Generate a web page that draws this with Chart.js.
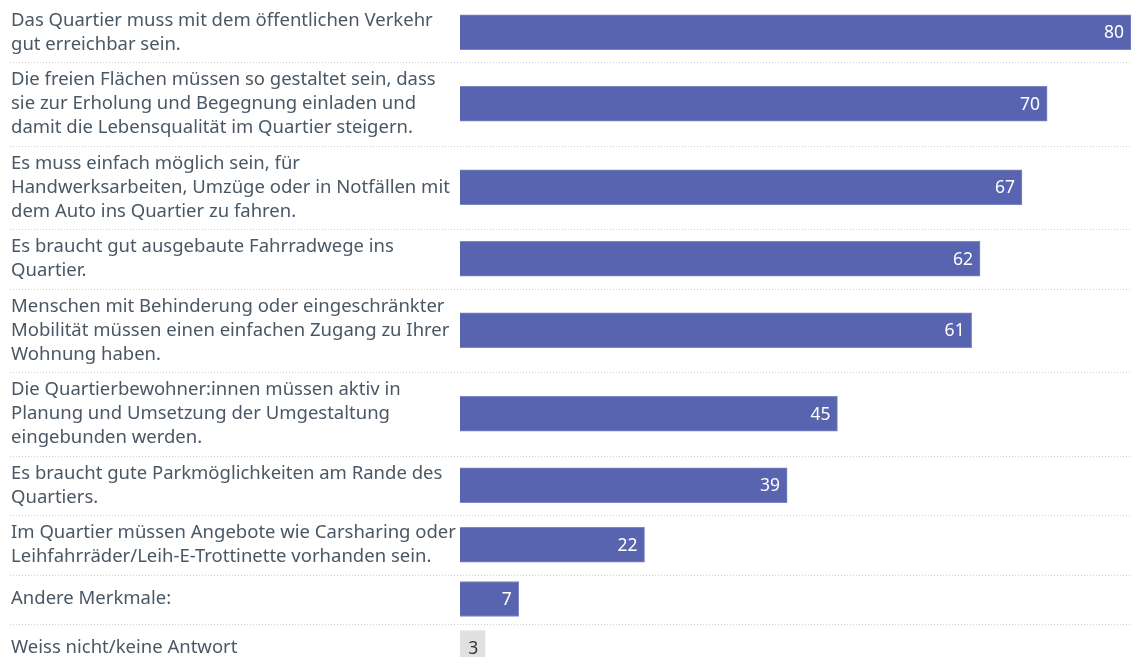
<!DOCTYPE html>
<html>
<head>
<meta charset="utf-8">
<script src="https://cdn.jsdelivr.net/npm/chart.js@4"></script>
<style>
  html, body { margin: 0; padding: 0; background: #fff; overflow: hidden; }
  canvas { display: block; }
</style>
</head>
<body>
<canvas id="chart" width="1131" height="657"></canvas>
<script>
  // Category labels, already broken into lines as in the original
  const categories = [
    ["Das Quartier muss mit dem öffentlichen Verkehr", "gut erreichbar sein."],
    ["Die freien Flächen müssen so gestaltet sein, dass", "sie zur Erholung und Begegnung einladen und", "damit die Lebensqualität im Quartier steigern."],
    ["Es muss einfach möglich sein, für", "Handwerksarbeiten, Umzüge oder in Notfällen mit", "dem Auto ins Quartier zu fahren."],
    ["Es braucht gut ausgebaute Fahrradwege ins", "Quartier."],
    ["Menschen mit Behinderung oder eingeschränkter", "Mobilität müssen einen einfachen Zugang zu Ihrer", "Wohnung haben."],
    ["Die Quartierbewohner:innen müssen aktiv in", "Planung und Umsetzung der Umgestaltung", "eingebunden werden."],
    ["Es braucht gute Parkmöglichkeiten am Rande des", "Quartiers."],
    ["Im Quartier müssen Angebote wie Carsharing oder", "Leihfahrräder/Leih-E-Trottinette vorhanden sein."],
    ["Andere Merkmale:"],
    ["Weiss nicht/keine Antwort"]
  ];
  const values = [80, 70, 67, 62, 61, 45, 39, 22, 7, 3];

  // Layout constants
  const LINE_H = 24;
  const ROW_PAD = 11.5;
  const MIN_ROW = 49;
  const TOP = 2.5;
  const H = 657;

  // Row heights follow the number of label lines
  const rowBounds = [TOP];
  categories.forEach(lines => {
    const h = Math.max(lines.length * LINE_H + ROW_PAD, MIN_ROW);
    rowBounds.push(rowBounds[rowBounds.length - 1] + h);
  });
  const rowCenters = categories.map((_, i) => (rowBounds[i] + rowBounds[i + 1]) / 2);

  const barColors = values.map((v, i) => i === values.length - 1 ? "#e0e0e0" : "#5964b0");
  const barBorders = values.map((v, i) => i === values.length - 1 ? "#e0e0e0" : "#7d85c4");
  const valueColors = values.map((v, i) => i === values.length - 1 ? "#333333" : "#ffffff");

  const FONT = "'Noto Sans', 'Open Sans', sans-serif";

  // dotted row separators
  const separators = {
    id: "separators",
    beforeDatasetsDraw(chart) {
      const ctx = chart.ctx;
      const y = chart.scales.y;
      ctx.save();
      ctx.strokeStyle = "#cfcfcf";
      ctx.lineWidth = 1;
      ctx.setLineDash([1, 2]);
      rowBounds.slice(1, -1).forEach(b => {
        const py = Math.round(y.getPixelForValue(b)) + 0.5;
        ctx.beginPath();
        ctx.moveTo(10, py);
        ctx.lineTo(chart.width, py);
        ctx.stroke();
      });
      ctx.restore();
    }
  };

  // value labels inside the bar end
  const valueLabels = {
    id: "valueLabels",
    afterDatasetsDraw(chart) {
      const ctx = chart.ctx;
      const meta = chart.getDatasetMeta(0);
      ctx.save();
      ctx.font = "17.5px " + FONT;
      ctx.textAlign = "right";
      ctx.textBaseline = "middle";
      meta.data.forEach((bar, i) => {
        ctx.fillStyle = valueColors[i];
        ctx.fillText(String(values[i]), bar.x - 7, bar.y + 1);
      });
      ctx.restore();
    }
  };

  new Chart(document.getElementById("chart"), {
    type: "bar",
    data: {
      datasets: [{
        data: values.map((v, i) => ({ x: v, y: rowCenters[i] })),
        backgroundColor: barColors,
        borderColor: barBorders,
        borderWidth: 1,
        barThickness: 35
      }]
    },
    options: {
      indexAxis: "y",
      responsive: false,
      animation: false,
      layout: { padding: { left: 11, right: 0, top: 0, bottom: 0 } },
      plugins: {
        legend: { display: false },
        tooltip: { enabled: false }
      },
      scales: {
        x: {
          display: false,
          min: 0,
          max: 80
        },
        y: {
          type: "linear",
          reverse: true,
          offset: false,
          min: 0,
          max: H,
          grid: { display: false, drawTicks: false, offset: false },
          border: { display: false },
          afterBuildTicks: scale => {
            scale.ticks = rowCenters.map(c => ({ value: c }));
          },
          afterFit: scale => {
            scale.width = 449;
            scale.paddingTop = 0;
            scale.paddingBottom = 0;
          },
          ticks: {
            autoSkip: false,
            crossAlign: "far",
            padding: 0,
            color: "#4a5765",
            font: { family: FONT, size: 18.5, lineHeight: LINE_H / 18.5 },
            callback: (value, index) => categories[index]
          }
        }
      }
    },
    plugins: [separators, valueLabels]
  });
</script>
</body>
</html>
